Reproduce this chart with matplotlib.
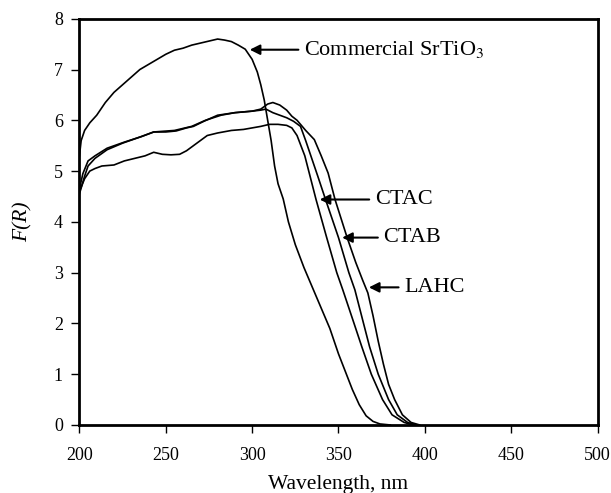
import matplotlib.pyplot as plt

plt.rcParams["font.family"] = ["Liberation Serif", "DejaVu Serif"]
plt.rcParams["mathtext.fontset"] = "stix"

# Commercial SrTiO3
wl_com = [200, 201, 203, 206, 210, 215, 220, 225, 230, 235, 240, 245, 250, 255,
          260, 265, 270, 275, 280, 284, 288, 292, 296, 300, 303, 305, 307, 309,
          311, 313, 315, 318, 321, 325, 330, 335, 340, 345, 350, 354, 358, 362,
          366, 370, 374, 380]
f_com = [5.3, 5.6, 5.8, 5.95, 6.1, 6.35, 6.55, 6.7, 6.85, 7.0, 7.1, 7.2, 7.3, 7.38,
         7.42, 7.48, 7.52, 7.56, 7.6, 7.58, 7.55, 7.48, 7.4, 7.2, 6.95, 6.7, 6.4, 6.0,
         5.6, 5.1, 4.75, 4.45, 4.0, 3.55, 3.1, 2.7, 2.3, 1.9, 1.4, 1.05, 0.7, 0.4,
         0.18, 0.07, 0.02, 0.0]

# CTAC
wl_ctac = [200, 203, 206, 209, 213, 220, 226, 232, 238, 243, 248, 253, 258, 262,
           266, 270, 274, 280, 288, 295, 300, 305, 310, 315, 320, 323, 326, 330.5,
           337, 343, 349, 352.5, 359, 363.5, 369, 375.5, 381, 388, 393]
f_ctac = [4.6, 4.85, 5.0, 5.05, 5.1, 5.12, 5.2, 5.25, 5.3, 5.37, 5.33, 5.32, 5.33,
          5.4, 5.5, 5.6, 5.7, 5.75, 5.8, 5.82, 5.85, 5.88, 5.92, 5.92, 5.9, 5.85, 5.7,
          5.3, 4.44, 3.71, 3.0, 2.66, 2.0, 1.54, 1.0, 0.5, 0.2, 0.05, 0.0]

# CTAB
wl_ctab = [200, 202, 205, 209, 216, 226, 236, 243, 250, 256, 262, 266, 272, 280,
           290, 300, 305, 308, 312, 316, 320, 324, 328, 331, 334, 338, 342.5, 350,
           356, 359.5, 364.5, 368, 373, 379, 384, 390, 395]
f_ctab = [4.65, 4.95, 5.2, 5.3, 5.45, 5.57, 5.68, 5.77, 5.77, 5.79, 5.85, 5.88, 5.98,
          6.1, 6.15, 6.18, 6.2, 6.22, 6.15, 6.1, 6.05, 5.98, 5.88, 5.6, 5.3, 4.9,
          4.44, 3.69, 3.0, 2.66, 2.0, 1.54, 1.0, 0.5, 0.2, 0.05, 0.0]

# LAHC
wl_lahc = [200, 203, 205, 209, 216, 225, 235, 243, 255, 265, 273, 282, 290, 300,
           305, 309, 312, 316, 320, 323, 326, 331, 336, 340, 344, 348, 355, 360,
           364, 367, 370, 373, 376, 379, 382.5, 387, 392, 397]
f_lahc = [4.55, 4.9, 5.1, 5.25, 5.42, 5.55, 5.67, 5.77, 5.8, 5.88, 6.0, 6.1, 6.15,
          6.18, 6.22, 6.32, 6.35, 6.3, 6.2, 6.08, 6.0, 5.8, 5.62, 5.3, 4.96, 4.44,
          3.69, 3.2, 2.85, 2.6, 2.15, 1.65, 1.2, 0.8, 0.5, 0.2, 0.05, 0.0]

fig = plt.figure(figsize=(6.11, 4.93), dpi=100)
ax = fig.add_axes([0.130, 0.138, 0.848, 0.824])

for wl, f in [(wl_com, f_com), (wl_ctac, f_ctac), (wl_ctab, f_ctab), (wl_lahc, f_lahc)]:
    ax.plot(wl, f, color="black", lw=1.2)

ax.set_xlim(200, 500)
ax.set_ylim(0, 8)
ax.set_xticks(range(200, 501, 50))
ax.set_yticks(range(0, 9))
ax.tick_params(direction="out", length=6, width=1, labelsize=13,
               top=False, right=False)
ax.tick_params(axis="x", pad=10)
ax.tick_params(axis="y", pad=6)
for s in ax.spines.values():
    s.set_linewidth(2)

ax.set_xlabel("Wavelength, nm", fontsize=15.5, labelpad=8)
ax.set_ylabel("F(R)", fontsize=15.5, style="italic", labelpad=15)

arrow = dict(arrowstyle="-|>", color="black", lw=1.5, mutation_scale=15)
ax.annotate("Commercial SrTiO$_3$", xy=(297, 7.39), xytext=(330, 7.39),
            fontsize=16, va="center", arrowprops=arrow)
ax.annotate("CTAC", xy=(337.5, 4.44), xytext=(371, 4.44),
            fontsize=16, va="center", arrowprops=arrow)
ax.annotate("CTAB", xy=(350.5, 3.69), xytext=(376, 3.69),
            fontsize=16, va="center", arrowprops=arrow)
ax.annotate("LAHC", xy=(366, 2.71), xytext=(388, 2.71),
            fontsize=16, va="center", arrowprops=arrow)

plt.savefig("out.png", dpi=100)
